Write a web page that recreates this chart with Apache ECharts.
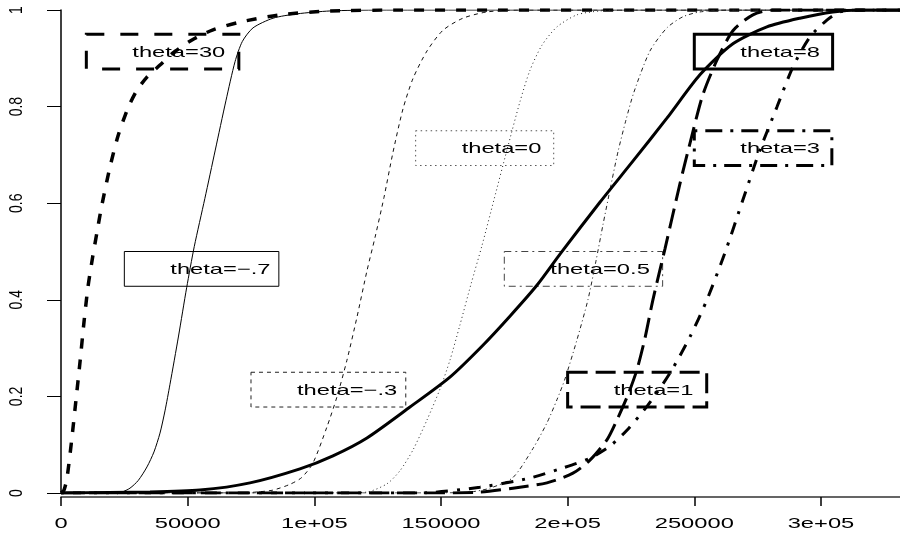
<!DOCTYPE html>
<html>
<head>
<meta charset="utf-8">
<script src="https://cdn.jsdelivr.net/npm/echarts@6/dist/echarts.min.js"></script>
<style>
html,body{margin:0;padding:0;background:#fff;}
#c{width:900px;height:538px;}
</style>
</head>
<body>
<div id="c"></div>
<script>
// ---------- axis ticks ----------
const xTickValues = [0, 50000, 100000, 150000, 200000, 250000, 300000];
const xTickLabels = ['0', '50000', '1e+05', '150000', '2e+05', '250000', '3e+05'];
const yTickValues = [0, 0.2, 0.4, 0.6, 0.8, 1];
const yTickLabels = ['0', '0.2', '0.4', '0.6', '0.8', '1'];

// ---------- curves (x, F(x)) ----------
const theta30 = [[0,0],[1180,0.006],[2370,0.031],[4220,0.110],[5920,0.193],[7500,0.271],[9080,0.354],[10660,0.427],[12510,0.489],[14210,0.540],[16060,0.594],[19340,0.675],[22500,0.739],[26440,0.797],[30000,0.834],[33940,0.861],[39080,0.886],[44210,0.911],[51710,0.938],[60000,0.959],[70650,0.975],[86440,0.990],[106170,0.998],[133800,1],[331200,1]];
const thetaM07 = [[0,0],[20000,0],[24000,0.002],[27230,0.010],[30500,0.026],[33940,0.054],[36700,0.085],[39080,0.124],[41050,0.170],[43020,0.225],[46400,0.325],[49600,0.425],[52600,0.510],[56800,0.610],[60900,0.710],[65100,0.812],[68700,0.893],[71600,0.935],[75800,0.963],[83700,0.983],[93150,0.992],[106170,0.998],[125900,1],[331200,1]];
const thetaM03 = [[0,0],[70000,0],[77000,0.002],[83680,0.006],[90390,0.018],[95000,0.032],[99460,0.062],[104990,0.137],[108930,0.199],[112880,0.275],[116830,0.364],[120780,0.460],[124000,0.530],[127500,0.612],[131040,0.705],[134990,0.795],[138940,0.858],[144460,0.915],[150780,0.958],[158670,0.983],[168140,0.996],[181170,1],[331200,1]];
const theta0 = [[0,0],[110000,0],[120780,0.002],[128670,0.019],[133800,0.046],[138930,0.089],[144460,0.151],[149590,0.215],[153540,0.275],[157490,0.348],[161830,0.432],[166170,0.512],[170910,0.607],[176040,0.710],[181170,0.810],[185110,0.875],[189850,0.927],[195770,0.965],[203670,0.990],[212740,0.998],[225000,1],[331200,1]];
const theta05 = [[0,0],[150000,0],[161430,0.002],[169330,0.010],[178400,0.032],[186300,0.092],[191820,0.145],[195770,0.193],[198930,0.236],[203670,0.317],[208010,0.400],[211170,0.480],[213930,0.555],[216700,0.627],[219850,0.706],[223010,0.772],[226170,0.830],[232480,0.915],[239190,0.963],[245500,0.986],[252220,0.996],[264060,1],[331200,1]];
const theta1 = [[0,0],[149590,0],[165380,0.002],[178400,0.010],[191820,0.021],[202090,0.041],[208800,0.068],[215510,0.110],[219450,0.151],[223790,0.203],[227340,0.255],[230500,0.320],[233660,0.400],[238400,0.505],[244320,0.640],[249060,0.740],[253400,0.825],[258920,0.896],[265240,0.957],[273130,0.990],[281030,1],[331200,1]];
const theta3 = [[0,0],[141700,0],[165380,0.012],[185110,0.031],[198140,0.052],[208800,0.072],[216700,0.097],[223400,0.130],[231690,0.182],[240370,0.248],[248270,0.323],[254980,0.400],[262080,0.497],[269190,0.607],[275900,0.710],[282610,0.799],[288920,0.882],[295630,0.944],[302340,0.979],[307470,0.996],[313390,1],[331200,1]];
const theta8 = [[0,0],[35130,0.002],[54860,0.006],[74600,0.021],[94330,0.050],[107360,0.077],[120780,0.114],[137750,0.178],[153540,0.240],[166570,0.306],[177220,0.366],[187880,0.430],[197350,0.497],[212740,0.602],[225760,0.687],[239180,0.776],[252210,0.866],[265230,0.930],[278650,0.965],[291670,0.983],[304700,0.996],[315360,1],[331200,1]];

// ---------- legend boxes: top-left / bottom-right in data units ----------
const boxLabels = ['theta=30', 'theta=0', 'theta=8', 'theta=3', 'theta=\u2212.7', 'theta=0.5', 'theta=\u2212.3', 'theta=1'];
const boxX0 = [10000, 140000, 250000, 250000, 25000, 175000, 75000, 200000];
const boxY0 = [0.95, 0.75, 0.95, 0.75, 0.50, 0.50, 0.25, 0.25];
const boxX1 = [70200, 194500, 304600, 304300, 86000, 237500, 136100, 254900];
const boxY1 = [0.878, 0.678, 0.878, 0.678, 0.428, 0.428, 0.178, 0.178];

// ---------- styles ----------
const FONT = '"Liberation Sans", Arial, Helvetica, sans-serif';
const curveStyles = [
  {name:'theta=30',  data:theta30,  color:'#000', width:3.5, type:[10,11]},
  {name:'theta=-.7', data:thetaM07, color:'#000', width:1,   type:'solid'},
  {name:'theta=-.3', data:thetaM03, color:'#111', width:1,   type:[4,4]},
  {name:'theta=0',   data:theta0,   color:'#222', width:1,   type:[1,3]},
  {name:'theta=0.5', data:theta05,  color:'#222', width:1,   type:[1,3,4,3]},
  {name:'theta=1',   data:theta1,   color:'#000', width:3,   type:[20,8]},
  {name:'theta=3',   data:theta3,   color:'#000', width:3,   type:[3,9,12,9]},
  {name:'theta=8',   data:theta8,   color:'#000', width:3,   type:'solid'}
];
const boxStyles = [
  {color:'#000', width:3, dash:[18,16]},
  {color:'#555', width:1, dash:[1.5,3.5]},
  {color:'#000', width:3, dash:null},
  {color:'#000', width:3, dash:[3,8,17,8]},
  {color:'#000', width:1, dash:null},
  {color:'#444', width:1, dash:[7,4,2,4]},
  {color:'#222', width:1, dash:[4,4]},
  {color:'#000', width:3, dash:[20,8]}
];
const TEXT_STRETCH = 1.58;

const series = curveStyles.map(c => ({
  type: 'line',
  name: c.name,
  data: c.data,
  showSymbol: false,
  smooth: 0.25,
  clip: true,
  silent: true,
  lineStyle: {color: c.color, width: c.width, type: c.type, cap: 'butt'}
}));

// legend-like boxes with labels, plus the axis tick labels, all placed with api.coord
const textItems = [];
boxLabels.forEach((_, i) => textItems.push([boxX0[i], boxY0[i], boxX1[i], boxY1[i], i, 0]));
xTickValues.forEach((v, i) => textItems.push([v, 0, v, 0, i, 1]));
yTickValues.forEach((v, i) => textItems.push([0, v, 0, v, i, 2]));

series.push({
  type: 'custom',
  name: 'texts',
  silent: true,
  clip: false,
  data: textItems,
  encode: {x: [0, 2], y: [1, 3]},
  renderItem: function (params, api) {
    const i = api.value(4);
    const kind = api.value(5);
    const p0 = api.coord([api.value(0), api.value(1)]);
    const p1 = api.coord([api.value(2), api.value(3)]);
    if (kind === 1) {
      return {
        type: 'group',
        children: [{
          type: 'text',
          x: p0[0],
          y: p0[1] + 31,
          scaleX: TEXT_STRETCH,
          style: {text: xTickLabels[i], font: '15px ' + FONT, fill: '#000', align: 'center', verticalAlign: 'middle'}
        }]
      };
    }
    if (kind === 2) {
      return {
        type: 'group',
        children: [{
          type: 'text',
          x: p0[0] - 44,
          y: p0[1],
          rotation: Math.PI / 2,
          scaleY: 1.3,
          style: {text: yTickLabels[i], font: '14px ' + FONT, fill: '#000', align: 'center', verticalAlign: 'middle'}
        }]
      };
    }
    const st = boxStyles[i];
    return {
      type: 'group',
      children: [
        {
          type: 'rect',
          shape: {x: p0[0], y: p0[1], width: p1[0] - p0[0], height: p1[1] - p0[1]},
          style: {fill: 'none', stroke: st.color, lineWidth: st.width, lineDash: st.dash}
        },
        {
          type: 'text',
          x: p0[0] + 46,
          y: (p0[1] + p1[1]) / 2 + 1,
          scaleX: TEXT_STRETCH,
          style: {text: boxLabels[i], font: '15px ' + FONT, fill: '#000', align: 'left', verticalAlign: 'middle'}
        }
      ]
    };
  }
});

const chart = echarts.init(document.getElementById('c'), null, {renderer: 'canvas'});
chart.setOption({
  animation: false,
  backgroundColor: '#fff',
  grid: {left: 61, right: 0, top: 10, bottom: 45, containLabel: false, outerBoundsMode: 'none'},
  xAxis: {
    type: 'value', min: 0, max: 331200, offset: 4,
    axisLine: {show: true, onZero: false, lineStyle: {color: '#333', width: 1.5}},
    axisTick: {show: true, length: 9, customValues: xTickValues, lineStyle: {color: '#000', width: 1.5}},
    axisLabel: {show: false},
    splitLine: {show: false}
  },
  yAxis: {
    type: 'value', min: 0, max: 1, interval: 0.2,
    axisLine: {show: true, onZero: false, lineStyle: {color: '#000', width: 1.5}},
    axisTick: {show: true, length: 14, lineStyle: {color: '#000', width: 1}},
    axisLabel: {show: false},
    splitLine: {show: false}
  },
  series: series
});
</script>
</body>
</html>
